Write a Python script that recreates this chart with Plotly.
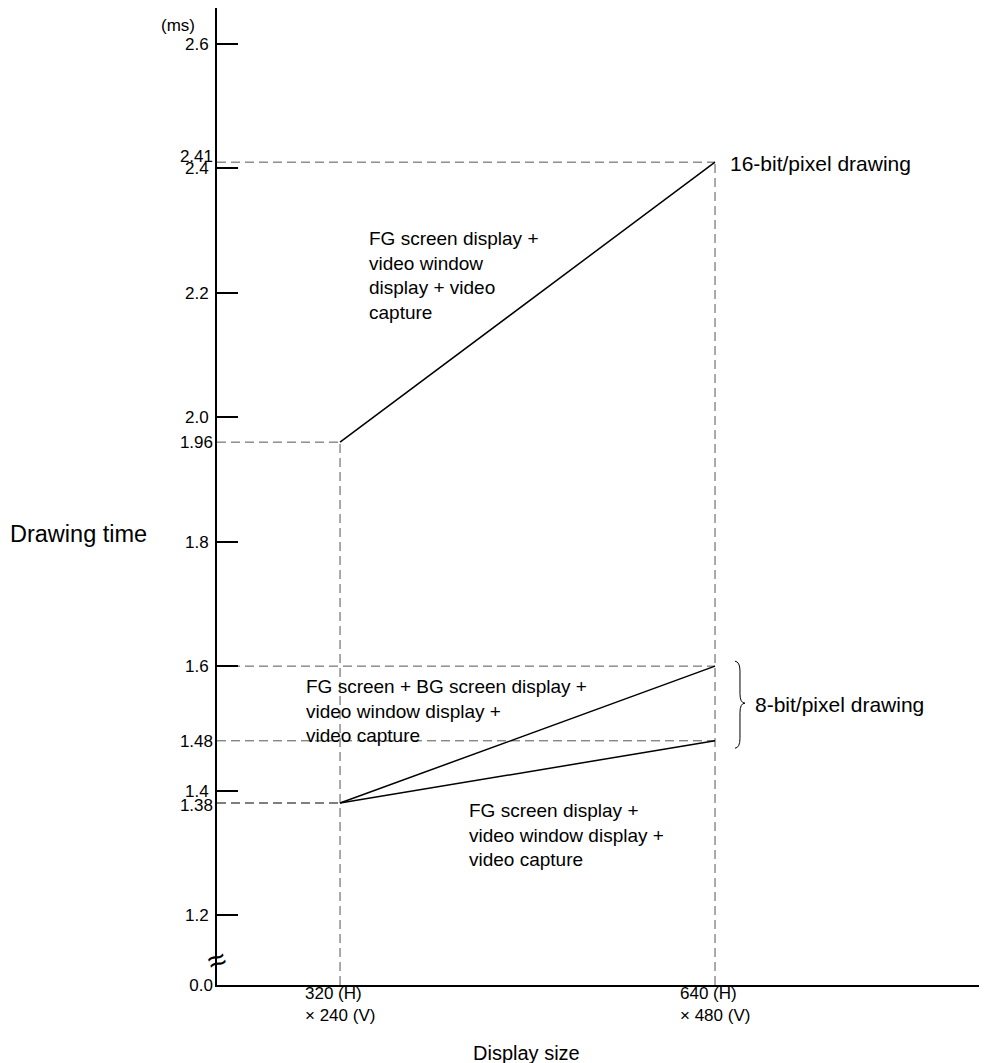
import plotly.graph_objects as go

# display sizes (horizontal pixels) and drawing times in ms
sizes = [320, 640]
size_labels = ["320 (H)<br>× 240 (V)", "640 (H)<br>× 480 (V)"]
t_16bit = [1.96, 2.41]
t_8bit_bg = [1.38, 1.60]
t_8bit_fg = [1.38, 1.48]

major_ticks = [1.2, 1.4, 1.6, 1.8, 2.0, 2.2, 2.4, 2.6]
marked_ticks = [1.96, 1.48]
crowded_up = [2.41]     # sits right above 2.4, label nudged up a little
crowded_down = [1.38]   # sits right below 1.4, label nudged down a little

# axis break: value shown as "0.0" at the bottom of the broken axis
y_bottom = 1.0875
y_top = 2.6578
x_left, x_right = 215, 870.4

FONT = "Liberation Sans, Arial, sans-serif"
GUIDE = dict(color="#555555", width=1, dash="9px,5px")

fig = go.Figure()

# dashed guide lines from the axes to each end point
series = [t_16bit, t_8bit_bg, t_8bit_fg]
for s in series:
    for x, y in zip(sizes, s):
        fig.add_trace(go.Scatter(x=[x_left, x], y=[y, y], mode="lines",
                                 line=GUIDE, hoverinfo="skip"))
for i, x in enumerate(sizes):
    top = max(s[i] for s in series)
    fig.add_trace(go.Scatter(x=[x, x], y=[y_bottom, top], mode="lines",
                             line=GUIDE, hoverinfo="skip"))

# the three measured lines
for s in series:
    fig.add_trace(go.Scatter(x=sizes, y=s, mode="lines",
                             line=dict(color="black", width=1.5)))

# invisible traces so the label-only axes are drawn
for ax in ["y2", "y3", "y4"]:
    fig.add_trace(go.Scatter(x=[sizes[0]], y=[t_16bit[0]], yaxis=ax,
                             mode="markers", marker=dict(opacity=0),
                             hoverinfo="skip"))

label_axis = dict(range=[y_bottom, y_top], overlaying="y", side="left",
                  showgrid=False, zeroline=False, showline=False, ticks="",
                  ticklabelstandoff=3, tickfont=dict(size=17))

fig.update_layout(
    width=979, height=1055,
    margin=dict(l=209, r=2, t=0, b=78),
    plot_bgcolor="white", paper_bgcolor="white",
    showlegend=False,
    font=dict(family=FONT, color="black", size=17),
    xaxis=dict(range=[x_left, x_right], showgrid=False, zeroline=False,
               showline=True, linecolor="black", linewidth=2,
               showticklabels=False, ticks=""),
    yaxis=dict(range=[y_bottom, y_top], showgrid=False, zeroline=False,
               showline=True, linecolor="black", linewidth=2,
               tickvals=major_ticks, ticktext=[f"{v:.1f}" for v in major_ticks],
               ticks="inside", ticklen=21, tickwidth=1.5, tickcolor="black",
               ticklabelstandoff=3, tickfont=dict(size=17)),
    yaxis2=dict(label_axis, tickvals=marked_ticks + [y_bottom],
                ticktext=[f"{v:.2f}" for v in marked_ticks] + ["0.0"]),
    yaxis3=dict(label_axis, tickvals=crowded_up,
                ticktext=[f"{v:.2f}" for v in crowded_up],
                ticklabelshift=-6),
    yaxis4=dict(label_axis, tickvals=crowded_down,
                ticktext=[f"{v:.2f}" for v in crowded_down],
                ticklabelshift=2),
)

# x tick labels, left aligned within each block
for x, lab in zip(sizes, size_labels):
    fig.add_annotation(x=x, y=-0.02, xref="x", yref="paper", text=lab,
                       showarrow=False, align="left", xanchor="center",
                       yanchor="middle", font=dict(size=17))

fig.add_annotation(x=0.4036, y=-0.0696, xref="paper", yref="paper",
                   text="Display size", showarrow=False, xanchor="center",
                   yanchor="middle", font=dict(size=20))
fig.add_annotation(x=-0.2721, y=1.812, xref="paper", yref="y",
                   text="Drawing time", showarrow=False, xanchor="left",
                   yanchor="middle", font=dict(size=23.5))
fig.add_annotation(x=-0.026, y=2.6297, xref="paper", yref="y", text="(ms)",
                   showarrow=False, xanchor="right", yanchor="middle",
                   font=dict(size=17))
fig.add_annotation(x=0, y=1.1277, xref="paper", yref="y", text="≈",
                   showarrow=False, xanchor="center", yanchor="middle",
                   textangle=-20, font=dict(size=32))

fig.add_annotation(x=651, y=2.408, text="16-bit/pixel drawing",
                   showarrow=False, xanchor="left", font=dict(size=21))
fig.add_annotation(x=672.4, y=1.539, text="8-bit/pixel drawing",
                   showarrow=False, xanchor="left", font=dict(size=21))
fig.add_annotation(x=343, y=2.228, align="left", xanchor="left",
                   text="FG screen display +<br>video window<br>display + video<br>capture",
                   showarrow=False, font=dict(size=19))
fig.add_annotation(x=289.3, y=1.5277, align="left", xanchor="left",
                   text="FG screen + BG screen display +<br>video window display +<br>video capture",
                   showarrow=False, font=dict(size=19))
fig.add_annotation(x=428.4, y=1.3285, align="left", xanchor="left",
                   text="FG screen display +<br>video window display +<br>video capture",
                   showarrow=False, font=dict(size=19))

# brace grouping the two 8-bit lines
fig.add_shape(type="path", xref="x", yref="y",
              line=dict(color="black", width=1),
              path="M 657,1.608 Q 661.3,1.607 661.3,1.592 L 661.3,1.556 "
                   "Q 661.3,1.5405 665.6,1.5405 Q 661.3,1.5405 661.3,1.525 "
                   "L 661.3,1.484 Q 661.3,1.469 657,1.468")

fig.write_html("out.html")
